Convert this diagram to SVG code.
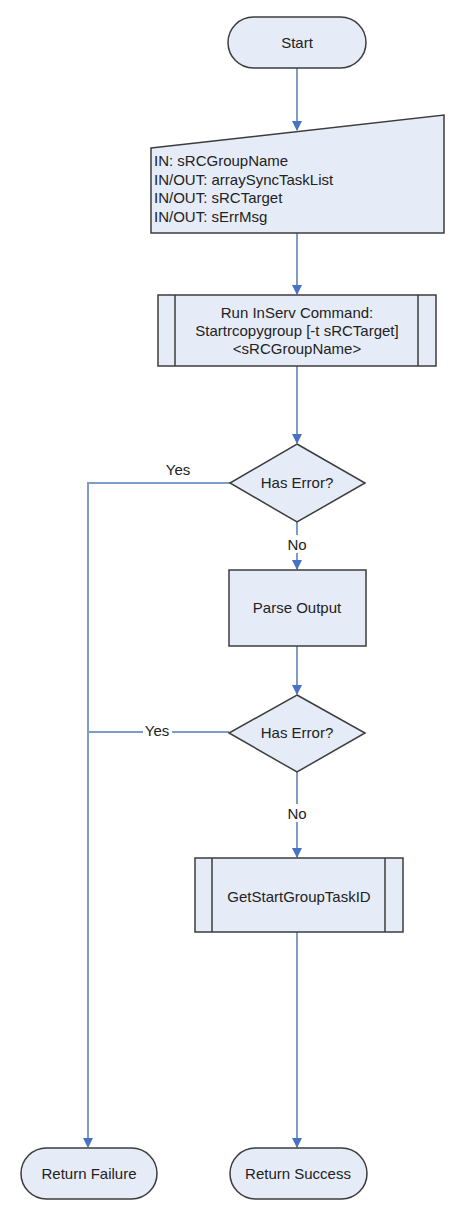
<svg xmlns="http://www.w3.org/2000/svg" width="472" height="1211" viewBox="0 0 472 1211">
<defs>
<marker id="ah" markerUnits="userSpaceOnUse" markerWidth="10" markerHeight="10" refX="9" refY="5" orient="auto" viewBox="0 0 10 10">
<path d="M0,0 L10,5 L0,10 Z" fill="#4a72c2"/>
</marker>
</defs>
<style>
.shape{fill:#e6ecf7;stroke:#3c3c3c;stroke-width:1.5}
.line{fill:none;stroke:#7f9bc8;stroke-width:2}
.lbl{font-family:"Liberation Sans",Arial,sans-serif;font-size:15px;fill:#222;text-anchor:middle;dominant-baseline:central}
.lft{font-family:"Liberation Sans",Arial,sans-serif;font-size:15px;fill:#222}
.bg{fill:#ffffff}
</style>
<rect width="472" height="1211" fill="#ffffff"/>
<g id="connectors">
<path class="line" d="M297,68 V130" marker-end="url(#ah)"/>
<path class="line" d="M297,233 V294" marker-end="url(#ah)"/>
<path class="line" d="M297,366 V443" marker-end="url(#ah)"/>
<path class="line" d="M297,522 V569" marker-end="url(#ah)"/>
<path class="line" d="M297,646 V694" marker-end="url(#ah)"/>
<path class="line" d="M297,772 V857" marker-end="url(#ah)"/>
<path class="line" d="M297,932 V1147" marker-end="url(#ah)"/>
<path class="line" d="M230,483 H88 V1147" marker-end="url(#ah)"/>
<path class="line" d="M229,732 H88"/>
<rect class="bg" x="285" y="535" width="24" height="18"/>
<text class="lbl" x="297" y="544">No</text>
<rect class="bg" x="285" y="804" width="24" height="18"/>
<text class="lbl" x="297" y="813">No</text>
<text class="lbl" x="178" y="469">Yes</text>
<rect class="bg" x="143" y="723" width="29" height="16"/>
<text class="lbl" x="157" y="730">Yes</text>
</g>
<g id="start">
<rect class="shape" x="228" y="17" width="138" height="51" rx="25.5"/>
<text class="lbl" x="297" y="42">Start</text>
</g>
<g id="input">
<path class="shape" d="M151,148 L444,115 L444,233 L151,233 Z"/>
<text class="lft" x="154" y="166">IN: sRCGroupName</text>
<text class="lft" x="154" y="184.5">IN/OUT: arraySyncTaskList</text>
<text class="lft" x="154" y="203">IN/OUT: sRCTarget</text>
<text class="lft" x="154" y="221.5">IN/OUT: sErrMsg</text>
</g>
<g id="run-command">
<rect class="shape" x="158" y="295" width="278" height="71"/>
<path class="shape" d="M175,295 V366 M418,295 V366" fill="none"/>
<text class="lbl" x="297" y="312">Run InServ Command:</text>
<text class="lbl" x="297" y="330">Startrcopygroup [-t sRCTarget]</text>
<text class="lbl" x="297" y="348">&lt;sRCGroupName&gt;</text>
</g>
<g id="has-error-1">
<path class="shape" d="M297,444 L365,483 L297,522 L230,483 Z"/>
<text class="lbl" x="297" y="482">Has Error?</text>
</g>
<g id="parse-output">
<rect class="shape" x="229" y="570" width="137" height="76"/>
<text class="lbl" x="297" y="607">Parse Output</text>
</g>
<g id="has-error-2">
<path class="shape" d="M297,695 L365,733 L297,772 L229,733 Z"/>
<text class="lbl" x="297" y="732">Has Error?</text>
</g>
<g id="get-task-id">
<rect class="shape" x="195" y="858" width="208" height="74"/>
<path class="shape" d="M212,858 V932 M385,858 V932" fill="none"/>
<text class="lbl" x="299" y="896">GetStartGroupTaskID</text>
</g>
<g id="return-failure">
<rect class="shape" x="21" y="1148" width="136" height="51" rx="25.5"/>
<text class="lbl" x="89" y="1173">Return Failure</text>
</g>
<g id="return-success">
<rect class="shape" x="230" y="1148" width="137" height="51" rx="25.5"/>
<text class="lbl" x="298" y="1173">Return Success</text>
</g>
</svg>
